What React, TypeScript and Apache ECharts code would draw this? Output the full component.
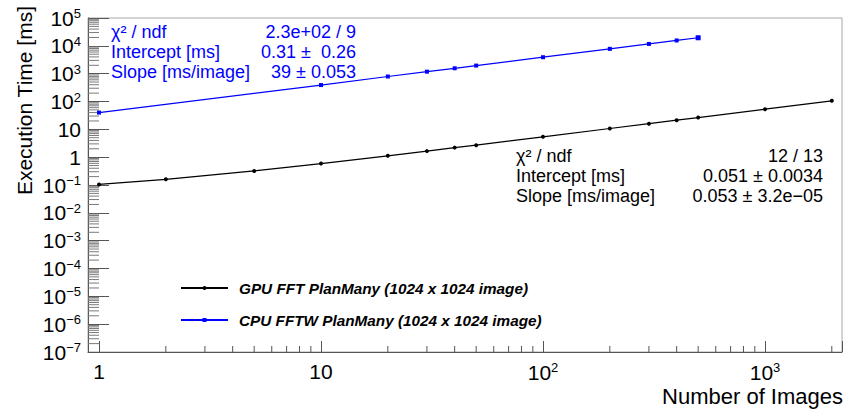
import React, { useEffect, useRef } from 'react';
import * as echarts from 'echarts';

// ---- data ----
const gpuImages = [1, 2, 5, 10, 20, 30, 40, 50, 100, 200, 300, 400, 500, 1000, 2000];
const gpuTimes = [0.105, 0.16, 0.32, 0.59, 1.12, 1.65, 2.2, 2.7, 5.4, 10.7, 16, 21.3, 26.5, 53, 106];
const cpuImages = [1, 10, 20, 30, 40, 50, 100, 200, 300, 400, 500];
const cpuTimes = [40, 390, 790, 1180, 1560, 1950, 3900, 7800, 11700, 15600, 19500];

const gpuName = 'GPU FFT PlanMany (1024 x 1024 image)';
const cpuName = 'CPU FFTW PlanMany (1024 x 1024 image)';

const cpuFitLabels = ['χ² / ndf', 'Intercept [ms]', 'Slope [ms/image]'];
const cpuFitValues = ['2.3e+02 / 9', '0.31 ±  0.26', '39 ± 0.053'];
const gpuFitLabels = ['χ² / ndf', 'Intercept [ms]', 'Slope [ms/image]'];
const gpuFitValues = ['12 / 13', '0.051 ± 0.0034', '0.053 ± 3.2e−05'];

// axis ranges and tick labels (decade exponents)
const X_MIN = 0.892;
const X_MAX = 2223;
const Y_MIN = 1e-7;
const Y_MAX = 1e5;
const xDecadeExponents = [0, 1, 2, 3];
const yDecadeExponents = [-7, -6, -5, -4, -3, -2, -1, 0, 1, 2, 3, 4, 5];
const minorMultipliers = [2, 3, 4, 5, 6, 7, 8, 9];

const xMinorTicks: number[] = [];
xDecadeExponents.forEach((e) =>
  minorMultipliers.forEach((m) => {
    const v = m * Math.pow(10, e);
    if (v < X_MAX) xMinorTicks.push(v);
  })
);
const yMinorTicks: number[] = [];
yDecadeExponents.slice(0, -1).forEach((e) =>
  minorMultipliers.forEach((m) => yMinorTicks.push(m * Math.pow(10, e)))
);

const FONT = '"Liberation Sans", Arial, Helvetica, sans-serif';
const AXIS_COLOR = '#555555';
const TICK_COLOR = '#7a7a7a';
const BLUE = '#0000ff';

const powLabel = (exps: number[]) => (v: number) => {
  const lg = Math.log10(v);
  const e = Math.round(lg);
  if (Math.abs(lg - e) > 1e-6 || exps.indexOf(e) < 0) return '';
  if (e === 0) return '1';
  if (e === 1) return '10';
  return `{b|10}{s|${e < 0 ? '−' : ''}${Math.abs(e)}}`;
};

const rich = {
  b: { fontSize: 21, fontFamily: FONT, color: '#000', lineHeight: 22 },
  s: { fontSize: 13, fontFamily: FONT, color: '#000', lineHeight: 13, verticalAlign: 'top' },
};

const fitText = (labels: string[], values: string[], xl: number, xr: number, ys: number[], color: string) => {
  const out: any[] = [];
  labels.forEach((t, i) => {
    out.push({
      type: 'text', x: xl, y: ys[i], z: 100,
      style: { text: t, fill: color, fontSize: 18, fontFamily: FONT, align: 'left', verticalAlign: 'middle' },
    });
    out.push({
      type: 'text', x: xr, y: ys[i], z: 100,
      style: { text: values[i], fill: color, fontSize: 18, fontFamily: FONT, align: 'right', verticalAlign: 'middle' },
    });
  });
  return out;
};

const option: any = {
  animation: false,
  backgroundColor: '#ffffff',
  grid: {
    left: 88, right: 3, top: 18, bottom: 59,
    show: true, borderColor: '#a8a8a8', borderWidth: 1, backgroundColor: 'transparent',
  },
  legend: {
    orient: 'vertical', left: 175, top: 274,
    itemWidth: 47, itemHeight: 5, itemGap: 14,
    selectedMode: false,
    data: [gpuName, cpuName],
    textStyle: {
      fontFamily: FONT, fontSize: 15.3, fontWeight: 'bold', fontStyle: 'italic',
      color: '#000', lineHeight: 18, padding: [0, 0, 0, 6],
    },
  },
  xAxis: {
    type: 'log', logBase: 10, min: X_MIN, max: X_MAX,
    axisLine: { show: true, lineStyle: { color: AXIS_COLOR, width: 1 } },
    axisTick: { show: true, inside: true, length: 11, lineStyle: { color: AXIS_COLOR, width: 1 } },
    axisLabel: { formatter: powLabel(xDecadeExponents), margin: 9, color: '#000', fontFamily: FONT, fontSize: 21, rich },
    splitLine: { show: false },
    minorTick: { show: false },
  },
  yAxis: {
    type: 'log', logBase: 10, min: Y_MIN, max: Y_MAX, interval: 1, splitNumber: 12,
    axisLine: { show: true, lineStyle: { color: AXIS_COLOR, width: 1 } },
    axisTick: { show: true, inside: true, length: 21, lineStyle: { color: AXIS_COLOR, width: 1 } },
    axisLabel: { formatter: powLabel(yDecadeExponents), margin: 7, color: '#000', fontFamily: FONT, fontSize: 21, rich },
    splitLine: { show: false },
    minorTick: { show: false },
  },
  series: [
    {
      name: gpuName, type: 'line', z: 5,
      data: gpuImages.map((x, i) => [x, gpuTimes[i]]),
      symbol: 'circle', symbolSize: 4, showSymbol: true,
      lineStyle: { color: '#000', width: 1.2 },
      itemStyle: { color: '#000' },
    },
    {
      name: cpuName, type: 'line', z: 5,
      data: cpuImages.map((x, i) =>
        i === cpuImages.length - 1 ? { value: [x, cpuTimes[i]], symbolSize: 5 } : [x, cpuTimes[i]]
      ),
      symbol: 'rect', symbolSize: 4, showSymbol: true,
      lineStyle: { color: BLUE, width: 1.2 },
      itemStyle: { color: BLUE },
    },
    {
      name: 'xMinor', type: 'custom', silent: true, z: 3,
      data: xMinorTicks.map((v) => [v, 1]),
      renderItem: (params: any, api: any) => {
        const p = api.coord([api.value(0), api.value(1)]);
        const yb = params.coordSys.y + params.coordSys.height;
        return { type: 'line', shape: { x1: p[0], y1: yb, x2: p[0], y2: yb - 6 }, style: { stroke: AXIS_COLOR, lineWidth: 1 } };
      },
    },
    {
      name: 'yMinor', type: 'custom', silent: true, z: 3,
      data: yMinorTicks.map((v) => [1, v]),
      renderItem: (params: any, api: any) => {
        const p = api.coord([api.value(0), api.value(1)]);
        const x0 = params.coordSys.x;
        return { type: 'line', shape: { x1: x0, y1: p[1], x2: x0 + 11, y2: p[1] }, style: { stroke: TICK_COLOR, lineWidth: 1 } };
      },
    },
  ],
  graphic: [
    {
      type: 'text', x: 24, y: 6, rotation: Math.PI / 2,
      style: { text: 'Execution Time [ms]', fill: '#000', fontSize: 21, fontFamily: FONT, align: 'right', verticalAlign: 'middle' },
    },
    {
      type: 'text', x: 843, y: 396,
      style: { text: 'Number of Images', fill: '#000', fontSize: 22, fontFamily: FONT, align: 'right', verticalAlign: 'middle' },
    },
    ...fitText(cpuFitLabels, cpuFitValues, 111, 356, [32, 52, 72], BLUE),
    ...fitText(gpuFitLabels, gpuFitValues, 516, 823, [156, 176, 196], '#000'),
  ],
};

export default function App() {
  const ref = useRef<HTMLDivElement>(null);
  useEffect(() => {
    document.body.style.margin = '0';
    const chart = echarts.init(ref.current as HTMLDivElement, null, { renderer: 'svg' });
    chart.setOption(option);
    return () => chart.dispose();
  }, []);
  return (
    <div
      ref={ref}
      style={{ width: 845, height: 411, position: 'fixed', left: 0, top: 0, background: '#fff' }}
    />
  );
}
